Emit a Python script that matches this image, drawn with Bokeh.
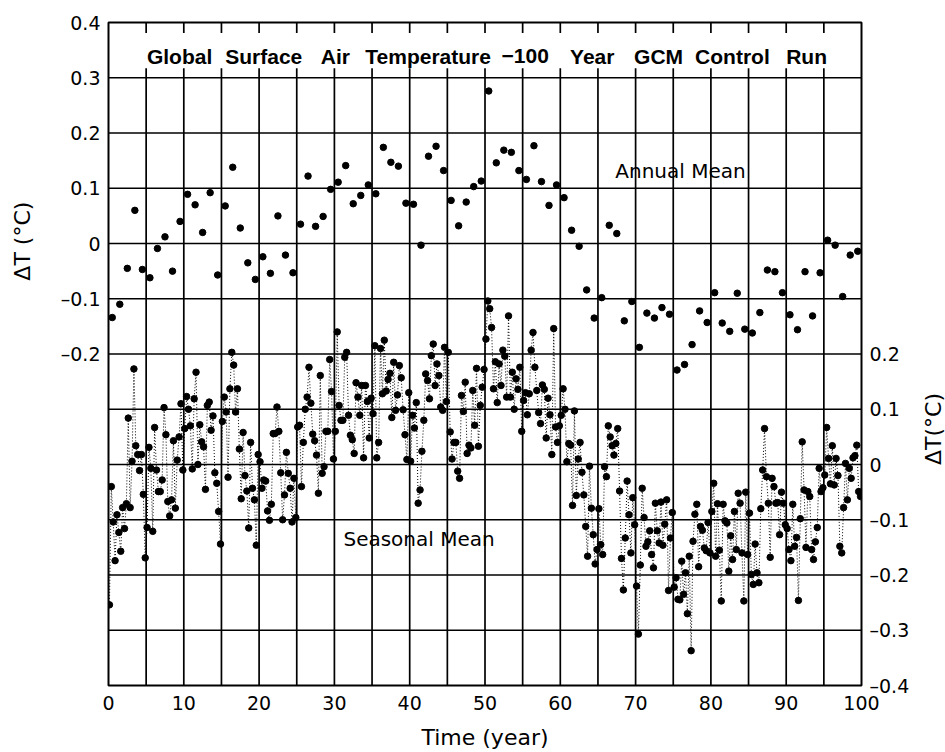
import numpy as np
from bokeh.plotting import figure
from bokeh.layouts import row
from bokeh.models import Range1d, LinearAxis, FixedTicker, ColumnDataSource
from bokeh.core.properties import value
from bokeh.embed import file_html
from bokeh.resources import INLINE

# ---- data -------------------------------------------------------------
# Annual-mean global surface air temperature anomaly (deg C), years 0..99
annual_mean = [
    -0.134, -0.110, -0.045, 0.060, -0.047, -0.062, -0.009, 0.012, -0.050, 0.040,
    0.089, 0.070, 0.020, 0.092, -0.057, 0.068, 0.138, 0.028, -0.035, -0.065,
    -0.024, -0.054, 0.050, -0.021, -0.053, 0.035, 0.122, 0.031, 0.049, 0.098,
    0.111, 0.141, 0.072, 0.087, 0.106, 0.090, 0.174, 0.147, 0.140, 0.073,
    0.071, -0.003, 0.158, 0.176, 0.132, 0.078, 0.032, 0.075, 0.103, 0.113,
    0.276, 0.146, 0.169, 0.165, 0.132, 0.116, 0.177, 0.112, 0.069, 0.106,
    0.083, 0.024, -0.005, -0.084, -0.135, -0.098, 0.033, 0.018, -0.140, -0.105,
    -0.188, -0.126, -0.135, -0.116, -0.128, -0.229, -0.219, -0.183, -0.122, -0.143,
    -0.089, -0.144, -0.159, -0.090, -0.155, -0.162, -0.125, -0.048, -0.051, -0.089,
    -0.129, -0.156, -0.051, -0.131, -0.053, 0.006, -0.003, -0.096, -0.021, -0.014,
]

# Seasonal-mean anomaly (deg C), four seasons per year, years 0..99
seasonal_mean = [
    -0.254, -0.040, -0.104, -0.174,   -0.091, -0.123, -0.157, -0.078,
    -0.116, -0.071, 0.084, -0.078,    0.006, 0.173, 0.034, 0.018,
    -0.011, 0.018, -0.054, -0.169,    -0.114, 0.031, -0.007, -0.121,
    0.067, -0.010, -0.049, -0.049,    -0.028, 0.103, 0.054, -0.067,
    -0.093, -0.064, 0.043, -0.079,    0.008, 0.050, 0.110, -0.010,
    0.065, 0.123, 0.100, 0.070,       -0.008, 0.119, 0.167, 0.000,
    0.072, 0.041, 0.032, -0.045,      0.107, 0.113, 0.062, 0.088,
    -0.015, -0.034, -0.085, -0.144,   0.078, 0.122, 0.095, -0.023,
    0.137, 0.203, 0.180, 0.095,       0.137, 0.028, -0.062, 0.058,
    -0.020, -0.048, -0.115, 0.040,    -0.043, -0.064, -0.146, 0.018,
    0.005, -0.043, -0.028, -0.030,    -0.084, -0.101, -0.072, 0.056,
    0.056, 0.104, 0.060, -0.015,      -0.100, -0.055, 0.022, -0.016,
    -0.043, -0.104, -0.025, -0.096,   0.068, 0.071, -0.040, 0.040,
    0.100, 0.122, 0.176, 0.111,       0.055, 0.043, 0.017, -0.052,
    0.161, -0.016, -0.004, 0.060,     0.060, 0.190, 0.132, 0.010,
    0.060, 0.240, 0.107, 0.080,       0.080, 0.194, 0.203, 0.089,
    0.053, 0.045, 0.020, 0.148,       0.122, 0.089, 0.143, 0.012,
    0.143, 0.114, 0.048, 0.120,       0.092, 0.215, 0.012, 0.040,
    0.210, 0.128, 0.225, 0.133,       0.154, 0.165, 0.085, 0.185,
    0.098, 0.126, 0.179, 0.157,       0.099, 0.054, 0.009, 0.130,
    0.006, 0.089, 0.066, 0.112,       -0.070, -0.046, 0.024, 0.080,
    0.164, 0.152, 0.119, 0.197,       0.218, 0.143, 0.182, 0.161,
    0.104, 0.098, 0.212, 0.114,       0.203, 0.059, 0.010, 0.040,
    0.040, -0.012, -0.025, 0.125,     0.096, 0.149, 0.020, 0.035,
    0.030, 0.134, 0.071, 0.174,       0.033, 0.107, 0.140, 0.172,
    0.227, 0.296, 0.282, 0.248,       0.137, 0.186, 0.112, 0.182,
    0.143, 0.207, 0.196, 0.122,       0.269, 0.122, 0.167, 0.100,
    0.155, 0.136, 0.176, 0.060,       0.116, 0.130, 0.090, 0.128,
    0.207, 0.239, 0.176, 0.134,       0.094, 0.074, 0.144, 0.136,
    0.048, 0.120, 0.090, 0.018,       0.246, 0.068, 0.040, 0.070,
    0.089, 0.137, 0.100, 0.005,       0.038, 0.035, -0.074, 0.097,
    -0.056, 0.010, 0.040, -0.014,     -0.055, -0.112, -0.166, -0.003,
    -0.079, -0.127, -0.180, -0.154,   -0.080, -0.145, -0.163, -0.004,
    -0.022, 0.070, 0.050, 0.034,      0.017, 0.038, 0.065, -0.048,
    -0.170, -0.227, -0.133, -0.030,   -0.091, -0.160, -0.060, -0.109,
    -0.220, -0.307, -0.182, -0.043,   -0.096, -0.148, -0.140, -0.120,
    -0.163, -0.187, -0.070, -0.120,   -0.142, -0.068, -0.146, -0.108,
    -0.064, -0.228, -0.133, -0.087,   -0.222, -0.205, -0.244, -0.245,
    -0.175, -0.235, -0.196, -0.270,   -0.166, -0.337, -0.139, -0.090,
    -0.072, -0.185, -0.112, -0.119,   -0.151, -0.156, -0.105, -0.160,
    -0.085, -0.034, -0.166, -0.071,   -0.155, -0.247, -0.072, -0.102,
    -0.106, -0.193, -0.129, -0.172,   -0.085, -0.154, -0.052, -0.070,
    -0.160, -0.247, -0.050, -0.163,   -0.088, -0.199, -0.217, -0.144,
    -0.196, -0.214, -0.080, -0.010,   0.065, -0.022, -0.070, -0.168,
    -0.025, -0.040, -0.070, -0.069,   -0.127, -0.050, -0.070, -0.109,
    -0.116, -0.154, -0.174, -0.072,   -0.148, -0.132, -0.246, -0.098,
    0.041, -0.046, -0.150, -0.049,    -0.058, -0.154, -0.172, -0.140,
    -0.114, -0.007, -0.049, -0.042,   -0.019, 0.067, 0.011, -0.035,
    0.034, -0.037, 0.011, -0.020,     -0.148, -0.160, -0.078, 0.002,
    -0.064, -0.007, -0.025, 0.012,    0.016, 0.035, -0.049, -0.058,
]

left_ticks = [0.4, 0.3, 0.2, 0.1, 0.0, -0.1, -0.2]
right_ticks = [0.2, 0.1, 0.0, -0.1, -0.2, -0.3, -0.4]
x_ticks = [0, 10, 20, 30, 40, 50, 60, 70, 80, 90, 100]

title_words = ["Global", "Surface", "Air", "Temperature", "\u2212100",
               "Year", "GCM", "Control", "Run"]
title_word_x = [5.1, 15.5, 28.2, 34.1, 52.2, 61.3, 69.8, 77.9, 90.0]

# ---- derived positions ------------------------------------------------
years = np.arange(len(annual_mean))
annual_x = years + 0.5
seasonal_x = (np.repeat(years, 4) + (np.tile(np.arange(4), len(years)) + 0.5) / 4.0)

FONT = "DejaVu Sans"
SEASONAL_OFFSET = 0.4   # right-hand scale = left-hand scale + 0.4
HEIGHT = 752
LEFT_STRIP, RIGHT_STRIP = 40, 30

p = figure(width=945 - LEFT_STRIP - RIGHT_STRIP, height=HEIGHT,
           x_range=Range1d(0, 100), y_range=Range1d(-0.8, 0.4),
           output_backend="svg", toolbar_location=None,
           min_border_left=108 - LEFT_STRIP, min_border_right=84 - RIGHT_STRIP,
           min_border_top=22, min_border_bottom=64,
           background_fill_color="white", border_fill_color="white")
p.extra_y_ranges = {"seasonal": Range1d(-0.8 + SEASONAL_OFFSET, 0.4 + SEASONAL_OFFSET)}
p.grid.visible = False
p.outline_line_color = "black"
p.outline_line_width = 2

# ---- grid: horizontal lines full width, vertical lines stop below title band
h_levels = [round(v, 1) for v in np.arange(-0.7, 0.35, 0.1)]
p.segment(x0=[0] * len(h_levels), x1=[100] * len(h_levels),
          y0=h_levels, y1=h_levels, line_color="black", line_width=1.6)
v_levels = list(range(5, 100, 5))
p.segment(x0=v_levels, x1=v_levels, y0=[-0.8] * len(v_levels),
          y1=[0.317] * len(v_levels), line_color="black", line_width=1.7)
p.segment(x0=v_levels, x1=v_levels, y0=[0.4] * len(v_levels),
          y1=[0.381] * len(v_levels), line_color="black", line_width=1.7)

# ---- annual series (left axis) ----------------------------------------
asrc = ColumnDataSource(dict(x=annual_x, y=annual_mean))
p.scatter("x", "y", source=asrc, size=6.5, marker="circle",
          fill_color="black", line_color="black")

# ---- seasonal series (right axis) ---------------------------------------
ssrc = ColumnDataSource(dict(x=seasonal_x, y=seasonal_mean))
p.line("x", "y", source=ssrc, line_color="black", line_width=1,
       line_dash="1 2", y_range_name="seasonal")
p.scatter("x", "y", source=ssrc, size=6.5, marker="circle",
          fill_color="black", line_color="black", y_range_name="seasonal")


def label_text(v):
    if abs(v) < 1e-9:
        return "0"
    s = "%.1f" % abs(v)
    return ("\u2013" + s) if v < 0 else s


def style_axis(ax):
    ax.axis_line_color = None
    ax.major_tick_line_color = None
    ax.minor_tick_line_color = None
    ax.major_tick_out = 0
    ax.major_tick_in = 0
    ax.minor_tick_out = 0
    ax.minor_tick_in = 0
    ax.major_label_text_font = FONT
    ax.major_label_text_font_size = "19px"
    ax.major_label_text_color = "black"
    ax.axis_label_text_font = FONT
    ax.axis_label_text_font_style = "normal"
    ax.axis_label_text_color = "black"


yl = p.yaxis[0]
yl.ticker = FixedTicker(ticks=left_ticks)
yl.major_label_overrides = {t: label_text(t) for t in left_ticks}
yl.major_label_standoff = 8
style_axis(yl)

yr = LinearAxis(y_range_name="seasonal", ticker=FixedTicker(ticks=right_ticks))
yr.major_label_overrides = {t: label_text(t) for t in right_ticks}
yr.major_label_standoff = 8
style_axis(yr)
p.add_layout(yr, "right")

xb = p.xaxis[0]
xb.ticker = FixedTicker(ticks=x_ticks)
xb.axis_label = "Time (year)"
xb.axis_label_text_font_size = "22px"
xb.major_label_standoff = 10
xb.axis_label_standoff = 12
style_axis(xb)

# ---- in-plot texts ------------------------------------------------------
p.text(x=title_word_x, y=[0.339] * len(title_words), text=title_words,
       text_font=value("Liberation Sans"), text_font_style="bold",
       text_font_size="21px", text_baseline="middle", text_align="left",
       text_color="black")
p.text(x=[67.3], y=[0.1315], text=["Annual Mean"], text_font=value(FONT),
       text_font_size="20px", text_baseline="middle", text_align="left",
       text_color="black")
p.text(x=[31.2], y=[-0.534], text=["Seasonal Mean"], text_font=value(FONT),
       text_font_size="20px", text_baseline="middle", text_align="left",
       text_color="black")


# ---- side strips carrying the two temperature-scale titles --------------
def side_strip(width, x, y_from_top, text):
    s = figure(width=width, height=HEIGHT, x_range=Range1d(0, width),
               y_range=Range1d(0, HEIGHT), x_axis_type=None, y_axis_type=None,
               output_backend="svg", toolbar_location=None, min_border=0,
               background_fill_color="white", border_fill_color="white")
    s.grid.visible = False
    s.outline_line_color = None
    s.text(x=[x], y=[HEIGHT - y_from_top], text=[text], angle=np.pi / 2,
           text_font=value(FONT), text_font_size="22px", text_align="center",
           text_baseline="middle", text_color="black")
    return s


left_strip = side_strip(LEFT_STRIP, 22, 248, "\u0394T (\u00b0C)")
right_strip = side_strip(RIGHT_STRIP, 18, 461, "\u0394T(\u00b0C)")

layout = row(left_strip, p, right_strip)
open("out.html", "w").write(file_html(layout, INLINE))
